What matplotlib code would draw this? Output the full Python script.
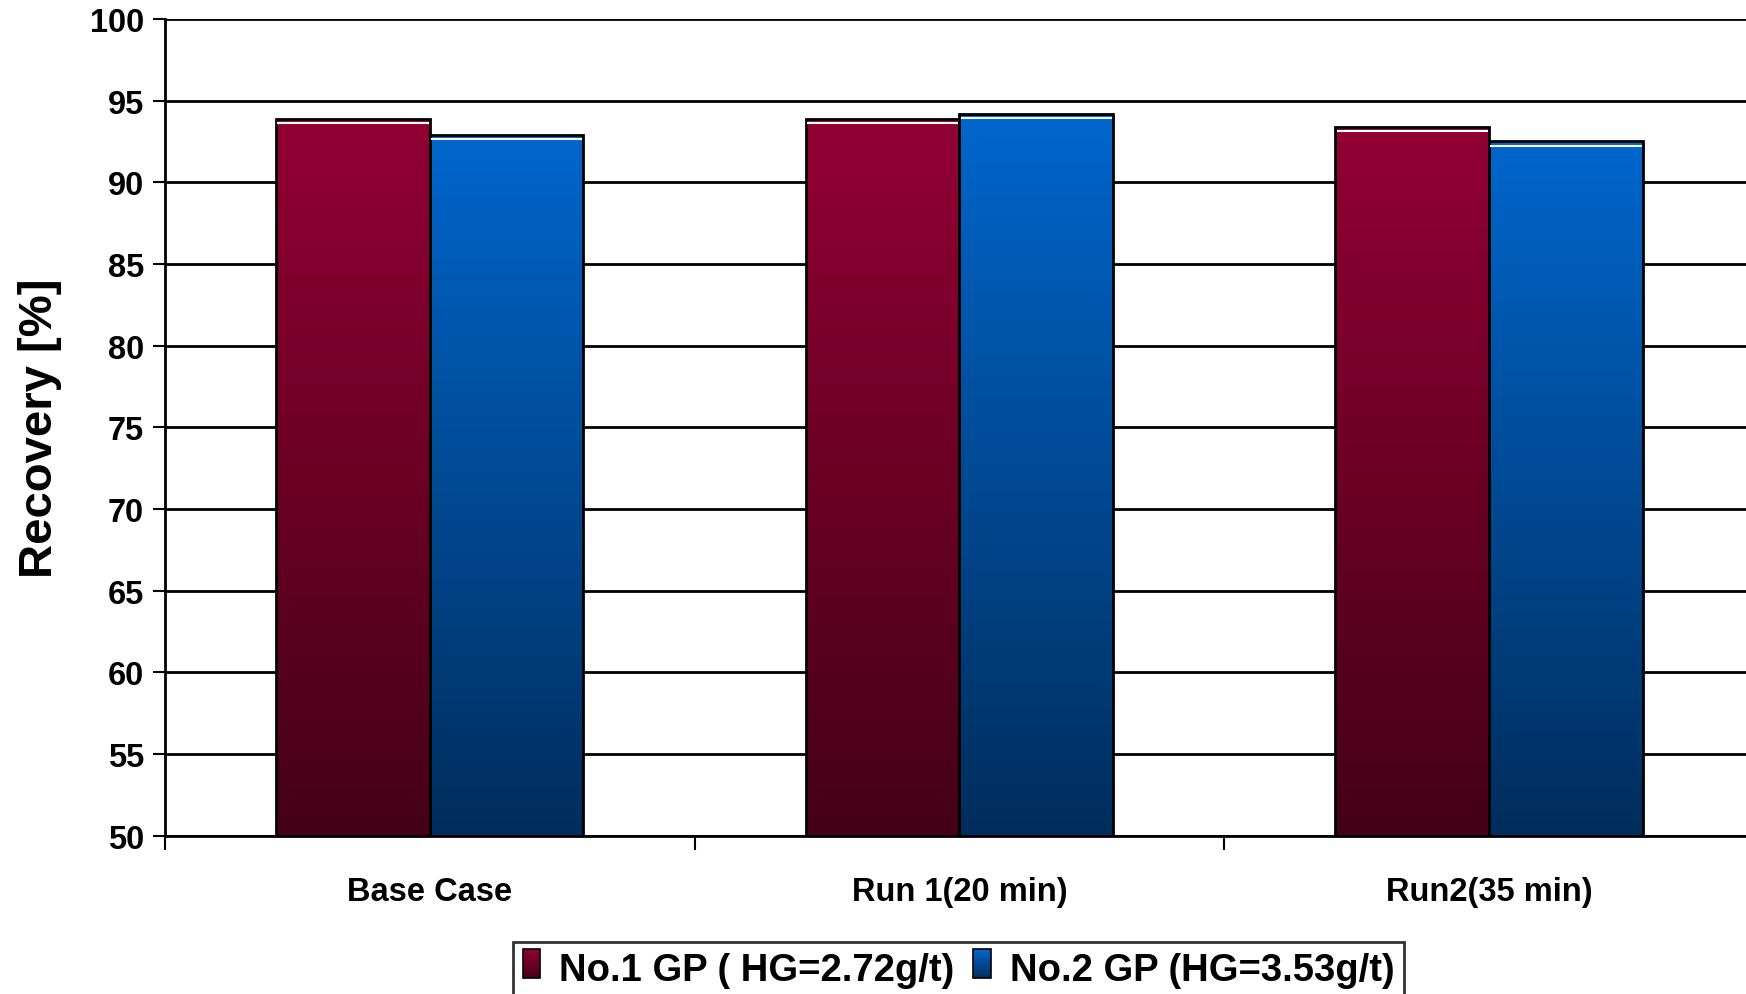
import matplotlib.pyplot as plt
import numpy as np
from matplotlib.colors import LinearSegmentedColormap
from matplotlib.legend_handler import HandlerBase
from matplotlib.patches import Rectangle

plt.rcParams['font.family'] = ['Liberation Sans', 'DejaVu Sans']
plt.rcParams['font.weight'] = 'bold'

categories = ['Base Case', 'Run 1(20 min)', 'Run2(35 min)']
gp1 = [93.9, 93.9, 93.4]
gp2 = [92.9, 94.2, 92.5]
series_labels = ['No.1 GP ( HG=2.72g/t)', 'No.2 GP (HG=3.53g/t)']
yticks = [50, 55, 60, 65, 70, 75, 80, 85, 90, 95, 100]

# top / bottom colours of the vertical gradient
grad_colors = [('#920033', '#440017'), ('#0066CC', '#002D5C')]


class GradientHandler(HandlerBase):
    def __init__(self, top, bottom):
        super().__init__()
        self.cmap = LinearSegmentedColormap.from_list('g', [bottom, top])

    def create_artists(self, legend, orig_handle, xdescent, ydescent, width, height, fontsize, trans):
        arts = []
        n = 12
        for k in range(n):
            arts.append(Rectangle((xdescent, ydescent + height * k / n), width, height / n + 0.3,
                                  facecolor=self.cmap((k + 0.5) / n), edgecolor='none', transform=trans))
        arts.append(Rectangle((xdescent, ydescent), width, height, facecolor='none',
                              edgecolor='black', lw=1.2, transform=trans))
        return arts


fig = plt.figure(figsize=(17.46, 9.95), dpi=100)
ax = fig.add_axes([0.0945, 0.159, 0.91, 0.821])

x = np.arange(len(categories))
w = 0.29
handles = []
for vals, off, (top, bottom) in zip([gp1, gp2], [-w / 2, w / 2], grad_colors):
    cmap = LinearSegmentedColormap.from_list('g', [bottom, top])
    bars = ax.bar(x + off, [v - 50 for v in vals], w, bottom=50, facecolor='none',
                  edgecolor='black', linewidth=2, zorder=4)
    for b in bars:
        x0, y0 = b.get_x(), b.get_y()
        grad = np.linspace(1, 0, 256).reshape(-1, 1)
        im = ax.imshow(grad, cmap=cmap, aspect='auto', zorder=3,
                       extent=(x0, x0 + b.get_width(), y0, y0 + b.get_height()))
        im.set_clip_path(b)
        ax.plot([x0 + 0.004, x0 + b.get_width() - 0.004], [y0 + b.get_height() - 0.25] * 2,
                color='white', lw=1.5, zorder=4)
    handles.append(bars)

ax.set_xlim(-0.5, 2.5)
ax.set_ylim(50, 100)
ax.set_yticks(yticks)
ax.yaxis.grid(True, color='black', linewidth=2)
ax.set_axisbelow(True)

ax.set_xticks([-0.5, 0.5, 1.5, 2.5])
ax.set_xticklabels([])
ax.set_xticks(x, minor=True)
ax.set_xticklabels(categories, minor=True)
ax.tick_params(axis='x', which='major', length=10, width=1.5, direction='out')
ax.tick_params(axis='x', which='minor', length=0, pad=29, labelsize=23.5)
ax.tick_params(axis='y', length=9, width=1.5, labelsize=23.5, pad=6)

for s in ['top', 'right']:
    ax.spines[s].set_visible(False)
ax.spines['left'].set_linewidth(2)
ax.spines['bottom'].set_linewidth(2)

ax.set_ylabel('Recovery [%]', fontsize=34, fontweight='bold', labelpad=20)

leg = fig.legend(handles, series_labels, loc='upper center', bbox_to_anchor=(0.549, 0.052),
                 ncol=2, fontsize=27.5, frameon=True, fancybox=False, edgecolor='black',
                 handlelength=0.45, handleheight=0.8, handletextpad=0.5, columnspacing=0.5,
                 borderpad=0.25, borderaxespad=0,
                 handler_map={handles[0]: GradientHandler(*grad_colors[0]),
                              handles[1]: GradientHandler(*grad_colors[1])})
leg.get_frame().set_linewidth(2)

fig.savefig('out.png', dpi=100)
